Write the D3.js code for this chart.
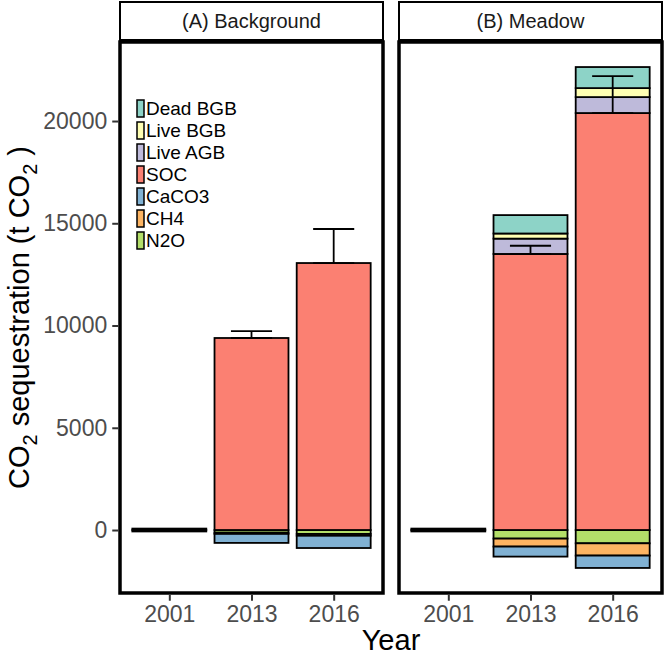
<!DOCTYPE html>
<html><head><meta charset="utf-8">
<script src="https://cdn.jsdelivr.net/npm/d3@7"></script>
<style>body{margin:0;background:#fff}svg{display:block}text{font-family:"Liberation Sans",Arial,sans-serif}</style>
</head><body><svg id="c" width="665" height="658"></svg>
<script>
const panels = ["(A) Background", "(B) Meadow"];
const years = ["2001", "2013", "2016"];
const components = ["Dead BGB", "Live BGB", "Live AGB", "SOC", "CaCO3", "CH4", "N2O"];
const colors = ["#8DD3C7", "#FFFFB3", "#BEBADA", "#FB8072", "#80B1D3", "#FDB462", "#B3DE69"];
// values per panel per year (t CO2), sign: positive = sequestration, negative = emission
const bgDeadBGB = [0, 0, 0];
const bgLiveBGB = [0, 0, 0];
const bgLiveAGB = [0, 0, 0];
const bgSOC     = [70, 9390, 13056];
const bgCaCO3   = [-70, -440, -600];
const bgCH4     = [0, -60, -90];
const bgN2O     = [0, -130, -190];
const meDeadBGB = [0, 900, 1030];
const meLiveBGB = [0, 250, 440];
const meLiveAGB = [0, 750, 780];
const meSOC     = [70, 13500, 20390];
const meCaCO3   = [-70, -490, -605];
const meCH4     = [0, -390, -600];
const meN2O     = [0, -420, -650];
// SOC standard error (upper whisker)
const bgSOCse = [0, 340, 1664];
const meSOCse = [0, 400, 1810];
const yTicks = [0, 5000, 10000, 15000, 20000];

const data = [
  {"Dead BGB": bgDeadBGB, "Live BGB": bgLiveBGB, "Live AGB": bgLiveAGB, "SOC": bgSOC, "CaCO3": bgCaCO3, "CH4": bgCH4, "N2O": bgN2O, se: bgSOCse},
  {"Dead BGB": meDeadBGB, "Live BGB": meLiveBGB, "Live AGB": meLiveAGB, "SOC": meSOC, "CaCO3": meCaCO3, "CH4": meCH4, "N2O": meN2O, se: meSOCse}
];

const svg = d3.select("#c");
const panelX = [120, 399], panelW = 263, panelTop = 42, panelBot = 593;
const stripTop = 2, stripH = 38;

const stackOrder = components.slice().reverse();
let allVals = [];
const stacked = data.map(d => years.map((y, i) => {
  let pos = 0, neg = 0, segs = [];
  stackOrder.forEach(c => {
    const v = d[c][i];
    if (v >= 0) { segs.push({c, y0: pos, y1: pos + v}); pos += v; }
    else { segs.push({c, y0: neg + v, y1: neg}); neg += v; }
  });
  allVals.push(pos, neg, d["SOC"][i] + d.se[i]);
  return {year: y, segs, soc: d["SOC"][i], se: d.se[i]};
}));
const ymin = d3.min(allVals), ymax = d3.max(allVals), rng = ymax - ymin;
const y = d3.scaleLinear().domain([ymin - 0.05 * rng, ymax + 0.05 * rng]).range([panelBot, panelTop]);
const color = d3.scaleOrdinal().domain(components).range(colors);

panels.forEach((p, pi) => {
  const x0 = panelX[pi];
  const xs = d3.scaleLinear().domain([0.4, 3.6]).range([x0, x0 + panelW]);
  const unit = xs(2) - xs(1);
  const g = svg.append("g");
  g.append("rect").attr("x", x0).attr("y", stripTop).attr("width", panelW).attr("height", stripH)
    .attr("fill", "#fff").attr("stroke", "#000").attr("stroke-width", 2);
  g.append("text").attr("x", x0 + panelW / 2).attr("y", stripTop + stripH / 2).attr("dy", "0.36em")
    .attr("text-anchor", "middle").attr("font-size", 20).attr("fill", "#1A1A1A").text(p);
  stacked[pi].forEach((b, i) => {
    const cx = xs(i + 1), bw = 0.9 * unit;
    b.segs.forEach(s => {
      g.append("rect").attr("x", cx - bw / 2).attr("width", bw)
        .attr("y", y(s.y1)).attr("height", Math.max(0, y(s.y0) - y(s.y1)))
        .attr("fill", color(s.c)).attr("stroke", "#000").attr("stroke-width", 1.8);
    });
  });
  stacked[pi].forEach((b, i) => {
    if (!b.se) return;
    const cx = xs(i + 1), ew = 0.5 * unit;
    const yl = y(b.soc), yh = y(b.soc + b.se);
    g.append("line").attr("x1", cx).attr("x2", cx).attr("y1", yl).attr("y2", yh).attr("stroke", "#000").attr("stroke-width", 1.8);
    g.append("line").attr("x1", cx - ew / 2).attr("x2", cx + ew / 2).attr("y1", yh).attr("y2", yh).attr("stroke", "#000").attr("stroke-width", 1.8);
    g.append("line").attr("x1", cx - ew / 2).attr("x2", cx + ew / 2).attr("y1", yl).attr("y2", yl).attr("stroke", "#000").attr("stroke-width", 1.8);
  });
  g.append("rect").attr("x", x0).attr("y", panelTop).attr("width", panelW).attr("height", panelBot - panelTop)
    .attr("fill", "none").attr("stroke", "#000").attr("stroke-width", 3.5);
  const xa = svg.append("g").attr("transform", `translate(0,${panelBot + 1.75})`)
    .call(d3.axisBottom(xs).tickValues([1, 2, 3]).tickFormat(d => years[d - 1]).tickSize(6).tickPadding(5));
  xa.select(".domain").remove();
  xa.selectAll("line").attr("stroke", "#333").attr("stroke-width", 2);
  xa.selectAll("text").attr("font-size", 23).attr("fill", "#4D4D4D").attr("font-family", "Liberation Sans, Arial, sans-serif");
});

const ya = svg.append("g").attr("transform", `translate(${panelX[0] - 1.75},0)`)
  .call(d3.axisLeft(y).tickValues(yTicks).tickFormat(d3.format("d")).tickSize(6).tickPadding(5));
ya.select(".domain").remove();
ya.selectAll("line").attr("stroke", "#333").attr("stroke-width", 2);
ya.selectAll("text").attr("font-size", 23).attr("fill", "#4D4D4D").attr("font-family", "Liberation Sans, Arial, sans-serif");

const lg = svg.append("g").attr("transform", "translate(137,99)");
components.forEach((c, i) => {
  const gy = i * 22;
  lg.append("rect").attr("x", 0).attr("y", gy + 1).attr("width", 7).attr("height", 17)
    .attr("fill", color(c)).attr("stroke", "#000").attr("stroke-width", 1.5);
  lg.append("text").attr("x", 9).attr("y", gy + 9.5).attr("dy", "0.36em").attr("font-size", 19)
    .attr("fill", "#000").text(c);
});

svg.append("text").attr("x", (panelX[0] + panelX[1] + panelW) / 2).attr("y", 650).attr("text-anchor", "middle")
  .attr("font-size", 29).attr("fill", "#000").text("Year");
const yt = svg.append("text").attr("transform", `translate(29,${(panelTop + panelBot) / 2}) rotate(-90)`)
  .attr("text-anchor", "middle").attr("font-size", 29).attr("fill", "#000");
yt.append("tspan").text("CO");
yt.append("tspan").attr("font-size", 20).attr("dy", 8).text("2");
yt.append("tspan").attr("dy", -8).text(" sequestration (t CO");
yt.append("tspan").attr("font-size", 20).attr("dy", 8).text("2");
yt.append("tspan").attr("dy", -8).text(" )");
</script></body></html>
